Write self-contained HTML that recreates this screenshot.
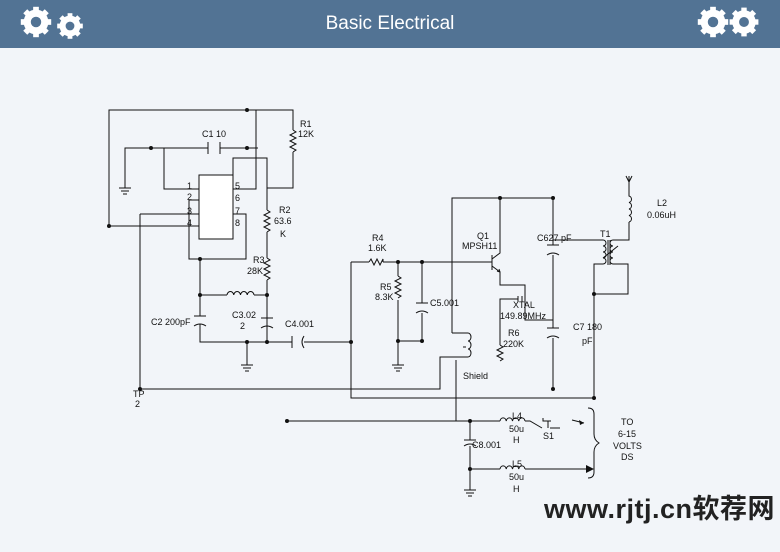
<!DOCTYPE html>
<html><head><meta charset="utf-8"><style>
body{margin:0;width:780px;height:552px;background:#f2f5f9;overflow:hidden;font-family:"Liberation Sans",sans-serif}
.hd{position:absolute;left:0;top:0;width:780px;height:48px;background:#527394;color:#fff;font-size:19px;text-align:center;line-height:48px}
svg{position:absolute;left:0;top:0}
.wm{position:absolute;left:544px;top:487px;font:bold 27px "Liberation Sans","Noto Sans CJK SC",sans-serif;color:#222;letter-spacing:0.5px}
</style></head><body>
<div class="hd">Basic Electrical</div>
<svg width="780" height="552" viewBox="0 0 780 552">
<defs>
<g id="gear"><circle r="10" fill="none" stroke="#fff" stroke-width="6"/>
<g fill="#fff"><rect x="-3" y="-16" width="6" height="32"/><rect x="-16" y="-3" width="32" height="6"/>
<rect x="-3" y="-16" width="6" height="32" transform="rotate(45)"/><rect x="-3" y="-16" width="6" height="32" transform="rotate(-45)"/></g>
<circle r="5.5" fill="#527394"/></g>
</defs>
<use href="#gear" transform="translate(36,22) scale(0.95)"/>
<use href="#gear" transform="translate(70,26) scale(0.8)"/>
<use href="#gear" transform="translate(713,22) scale(0.95)"/>
<use href="#gear" transform="translate(744,22) scale(0.9)"/>
<g stroke="#111" stroke-width="1" fill="none">
<!-- top left loop -->
<path d="M109,226V110H293V130M293,152V188H267"/>
<path d="M125,188V148H208M220,148H258M164,148V189H199M233,189H256V110"/>
<path d="M119,188h12M121,191h8M123,194h4"/>
<path d="M208,142v12M220,142v12"/>
<rect x="199" y="175" width="34" height="64" fill="#fff"/>
<path d="M109,226H199M140,214H199M140,214V389M199,200H189V259H246V214H233"/>
<path d="M233,175V158H267V210M267,232V258M267,280V342"/>
<!-- resistors -->
<path d="M293,130l3,2l-6,3l6,3l-6,3l6,3l-6,3l6,3l-3,2"/>
<path d="M267,210l3,2l-6,3l6,3l-6,3l6,3l-6,3l6,3l-3,2"/>
<path d="M267,258l3,2l-6,3l6,3l-6,3l6,3l-6,3l6,3l-3,2"/>
<!-- inductor L1 -->
<path d="M200,295H227M254,295H267M227,295a3.4,4 0 0 1 6.75,0a3.4,4 0 0 1 6.75,0a3.4,4 0 0 1 6.75,0a3.4,4 0 0 1 6.75,0"/>
<path d="M200,259V316M200,324V342H292M304,342H351M267,316V342M247,342V365M241,365h12M243,368h8M245,371h4"/>
<path d="M194,316h12M194,326q6,-4 12,0M261,318h12M261,328q6,-4 12,0M200,326V342M267,328V342"/>
<path d="M292,336v12M304,336q-4,6 0,12"/>
<!-- middle -->
<path d="M351,262V398H594M351,262H369M383,262H492"/>
<path d="M369,262l2,-3l3,6l3,-6l3,6l3,-6l0,3"/>
<path d="M398,262V276M398,300V341H422M398,341V365M392,365h12M394,368h8M396,371h4"/>
<path d="M398,276l3,2l-6,3l6,3l-6,3l6,3l-6,3l6,3l-3,2"/>
<path d="M422,262V303M416,303h12M416,313q6,-4 12,0M422,313V341"/>
<path d="M452,333V198H553M500,198V250"/>
<!-- transistor -->
<path d="M492,255v15M492,259l8,-6V250M492,266l8,6V285H525V320H553"/>
<path d="M500,272l-3,-1M500,272l-1,-3"/>
<path d="M500,345V299H518M518,296v6M522,296v6"/>
<path d="M500,345l3,2l-6,3l6,3l-6,3l6,3l-3,2"/>
<path d="M553,198V245M547,245h12M547,255q6,-4 12,0M553,255V328M547,328h12M547,338q6,-4 12,0M553,338V389"/>
<path d="M553,240H600"/>
<!-- T1 -->
<path d="M600,240h3a3,3 0 0 1 0,6a3,3 0 0 1 0,6a3,3 0 0 1 0,6a3,3 0 0 1 0,6h-3M608,240v25M610,240v25M615,240h-2a3,3 0 0 0 0,6a3,3 0 0 0 0,6a3,3 0 0 0 0,6a3,3 0 0 0 0,6h2"/>
<path d="M603,258l15,-12M615,240H629V222M615,264H628V294H594M600,264H594V398"/>
<!-- L2 antenna -->
<path d="M629,222h0a3,3.3 0 0 0 0,-6.5a3,3.3 0 0 0 0,-6.5a3,3.3 0 0 0 0,-6.5a3,3.3 0 0 0 0,-6.5V176M626,176l3,6l3,-6"/>
<!-- shield coil -->
<path d="M452,333H468a3,4 0 0 1 0,8a3,4 0 0 1 0,8a3,4 0 0 1 0,8H440V389H140M456,360V421M463,347h3"/>
<!-- bottom -->
<path d="M287,421H500M525,421H530l12,7M550,428h10M548,421v7M543,418v3h8M470,421V440M464,440h12M464,446q6,-4 12,0M470,446V490M464,490h12M466,493h8M468,496h4"/>
<path d="M500,421a3.2,4 0 0 1 6.25,0a3.2,4 0 0 1 6.25,0a3.2,4 0 0 1 6.25,0a3.2,4 0 0 1 6.25,0"/>
<path d="M470,469H500M525,469H586M500,469a3.2,4 0 0 1 6.25,0a3.2,4 0 0 1 6.25,0a3.2,4 0 0 1 6.25,0a3.2,4 0 0 1 6.25,0"/>
<path d="M572,420l12,3"/>
<path d="M588,408q6,0 6,6v20q0,6 5,9q-5,3 -5,9v20q0,6 -6,6"/>
</g>
<g fill="#111">
<circle cx="247" cy="110" r="2"/><circle cx="109" cy="226" r="2"/><circle cx="151" cy="148" r="2"/><circle cx="247" cy="148" r="2"/>
<circle cx="200" cy="259" r="2"/><circle cx="200" cy="295" r="2"/><circle cx="267" cy="295" r="2"/><circle cx="247" cy="342" r="2"/><circle cx="267" cy="342" r="2"/>
<circle cx="351" cy="342" r="2"/><circle cx="398" cy="262" r="2"/><circle cx="422" cy="262" r="2"/><circle cx="398" cy="341" r="2"/><circle cx="422" cy="341" r="2"/>
<circle cx="500" cy="198" r="2"/><circle cx="553" cy="198" r="2"/><circle cx="553" cy="389" r="2"/><circle cx="594" cy="294" r="2"/><circle cx="594" cy="398" r="2"/>
<circle cx="287" cy="421" r="2"/><circle cx="470" cy="421" r="2"/><circle cx="470" cy="469" r="2"/><circle cx="140" cy="389" r="2"/>
<path d="M586,465l8,4l-8,4z"/><path d="M584,423l-5,-3l1,5z"/>
</g>
<g font-family="Liberation Sans" font-size="9" fill="#111">
<text x="300" y="127">R1</text><text x="298" y="137">12K</text>
<text x="202" y="137">C1 10</text>
<text x="187" y="189">1</text><text x="187" y="200">2</text><text x="187" y="214">3</text><text x="187" y="226">4</text>
<text x="235" y="189">5</text><text x="235" y="201">6</text><text x="235" y="214">7</text><text x="235" y="226">8</text>
<text x="279" y="213">R2</text><text x="274" y="224">63.6</text><text x="280" y="237">K</text>
<text x="253" y="263">R3</text><text x="247" y="274">28K</text>
<text x="151" y="325">C2 200pF</text><text x="232" y="318">C3.02</text><text x="240" y="329">2</text>
<text x="285" y="327">C4.001</text>
<text x="133" y="397">TP</text><text x="135" y="407">2</text>
<text x="372" y="241">R4</text><text x="368" y="251">1.6K</text>
<text x="380" y="290">R5</text><text x="375" y="300">8.3K</text>
<text x="430" y="306">C5.001</text>
<text x="477" y="239">Q1</text><text x="462" y="249">MPSH11</text>
<text x="537" y="241">C627 pF</text><text x="600" y="237">T1</text>
<text x="657" y="206">L2</text><text x="647" y="218">0.06uH</text>
<text x="513" y="308">XTAL</text><text x="500" y="319">149.89MHz</text>
<text x="508" y="336">R6</text><text x="503" y="347">220K</text>
<text x="573" y="330">C7 180</text><text x="582" y="344">pF</text>
<text x="463" y="379">Shield</text>
<text x="512" y="419">L4</text><text x="509" y="432">50u</text><text x="513" y="443">H</text>
<text x="543" y="439">S1</text>
<text x="472" y="448">C8.001</text>
<text x="512" y="467">L5</text><text x="509" y="480">50u</text><text x="513" y="492">H</text>
<text x="621" y="425">TO</text><text x="618" y="437">6-15</text><text x="613" y="449">VOLTS</text><text x="621" y="460">DS</text>
</g>
</svg>
<div class="wm">www.rjtj.cn软荐网</div>
</body></html>
